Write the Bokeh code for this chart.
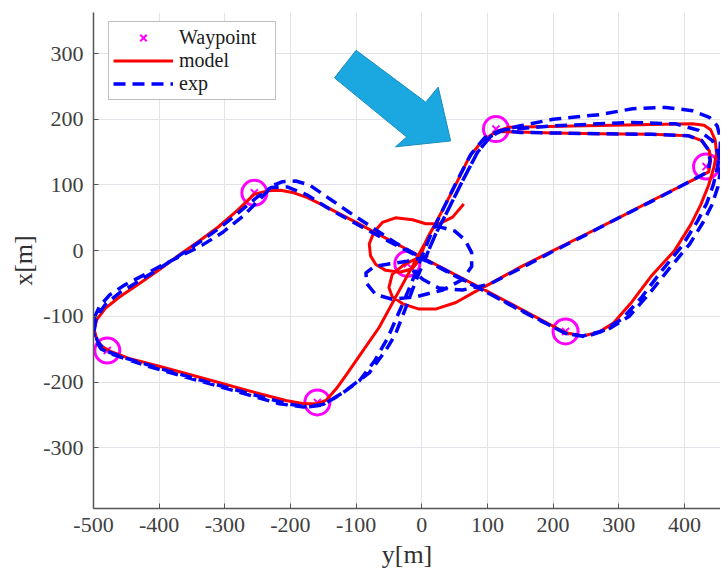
from bokeh.plotting import figure
from bokeh.models import Range1d, FixedTicker, Legend, LegendItem
from bokeh.embed import file_html
from bokeh.resources import INLINE

# ---------------- data (horizontal = y[m], vertical = x[m]) ----------------
waypoint_y = [113, 433, 219, -22, -255, -159, -479]
waypoint_x = [185, 128, -123, -20, 88, -231, -152]

model_y = [64, 47, 27, 6, -14, -40, -60, -73, -80, -78, -70, -55, -34, -15, -6, -1, 8, 26, 52, 72, 92, 113,
           133, 250, 350, 412, 430, 440, 447, 449, 445, 437, 425, 410, 385, 351, 320, 292, 270, 245, 219,
           100, 0, -100, -150, -175, -195, -215, -235, -255, -280, -310, -340, -370, -400, -430, -461, -482,
           -495, -499, -495, -487, -475, -446, -400, -319, -250, -207, -180, -160, -146, -130, -115, -90, -65,
           -35, -4, 26, 52, 72, 92, 113,
           133, 200, 270, 350, 407, 427, 438, 440, 437,
           400, 350, 300, 250, 200, 150, 103, 82, 52, 21, -4, -29, -45, -50, -45, -28, -8, 10]
model_x = [71, 51, 41, 41, 47, 50, 43, 28, 10, -8, -21, -30, -33, -28, -17, -6, 18, 51, 101, 142, 167, 181,
           188, 190, 192, 193, 191, 184, 168, 148, 127, 100, 70, 40, 0, -37, -78, -110, -124, -130, -125,
           -62, -10, 43, 69, 81, 88, 92, 91, 86, 62, 36, 14, -7, -29, -50, -71, -88,
           -105, -120, -135, -146, -153, -164, -176, -198, -217, -228, -233, -233, -228, -210, -189, -153, -117,
           -62, -5, 51, 101, 142, 167, 181,
           181, 179, 178, 177, 175, 167, 152, 137, 120,
           101, 76, 50, 25, 0, -25, -51, -62, -79, -89, -89, -81, -70, -56, -36, -22, -12, -8]

exp_y = [20, 50, 66, 76, 76, 62, 32, -8, -45, -70, -84, -85, -72, -48, -22, -4,
         6, 21, 37, 62, 85, 105, 125, 150, 200, 270, 321, 372, 412, 438, 450, 455, 454, 450, 444, 434, 420,
         397, 366, 334, 305, 276, 245, 219,
         150, 100, 50, 0, -40, -75, -110, -136, -171, -192, -212, -227, -248, -273, -303, -335, -365, -395,
         -425, -452, -475, -491, -500, -501, -497, -488, -471, -420, -354, -283, -217, -180, -150, -120, -80,
         -55, -40, -24, -9, 6, 21, 37, 62, 85, 105, 125,
         150, 200, 270, 321, 387, 422, 443, 452, 455, 451, 442, 429, 408, 378, 346, 316, 284, 250, 219,
         150, 100, 50, 0, -50, -100, -140, -175, -205, -230, -250, -280, -310, -340, -370, -400, -430, -460,
         -482, -496, -499, -493, -480, -450, -400, -320, -250, -205, -175, -152, -125, -95, -72, -52, -33,
         -16, -1, 14, 30, 52, 75, 96, 120,
         150, 270, 350, 405, 426, 437, 439, 436,
         400, 350, 300, 250, 200, 150, 103, 62, 26, 2, -14]
exp_x = [38, 30, 16, -3, -24, -44, -60, -70, -74, -67, -50, -34, -24, -20, -16, -12,
         -10, 25, 56, 106, 150, 174, 184, 190, 200, 207, 216, 218, 213, 203, 190, 170, 150, 125, 100, 72, 45,
         8, -30, -72, -104, -122, -130, -126,
         -91, -64, -37, -11, 12, 35, 58, 76, 100, 106, 105, 99, 77, 52, 28, 8, -7, -22,
         -38, -52, -67, -85, -105, -120, -137, -150, -158, -175, -194, -214, -233, -238, -234, -216, -186,
         -152, -127, -86, -46, -10, 25, 56, 106, 150, 174, 184,
         186, 190, 193, 195, 193, 183, 167, 147, 122, 97, 70, 44, 10, -26, -66, -100, -120, -131, -126,
         -90, -64, -38, -12, 14, 41, 63, 85, 97, 96, 82, 57, 33, 12, -8, -27, -46, -64,
         -82, -102, -122, -140, -153, -164, -179, -202, -221, -233, -238, -235, -220, -198, -168, -133, -90,
         -50, -12, 25, 58, 103, 147, 172, 183,
         180, 178, 177, 175, 168, 153, 137, 120,
         101, 75, 50, 24, -1, -27, -51, -60, -57, -44, -30]

# block-arrow annotation outline
arrow_y = [-100, -133, -23, -40, 44, 25, 6]
arrow_x = [305, 263, 173, 158, 167, 249, 226]

x_ticks = [-500, -400, -300, -200, -100, 0, 100, 200, 300, 400]
x_tick_labels = ["-500", "-400", "-300", "-200", "-100", "0", "100", "200", "300", "400"]
y_ticks = [-300, -200, -100, 0, 100, 200, 300]
y_tick_labels = ["-300", "-200", "-100", "0", "100", "200", "300"]

SERIF = "Liberation Serif"

p = figure(width=720, height=578, x_range=Range1d(-500, 455), y_range=Range1d(-392.5, 362.5),
           output_backend="svg", toolbar_location=None,
           min_border_left=93, min_border_right=0, min_border_top=12, min_border_bottom=70)
p.outline_line_color = None
p.background_fill_color = "white"
p.border_fill_color = "white"

for ax, ticks, labels in ((p.xaxis[0], x_ticks, x_tick_labels), (p.yaxis[0], y_ticks, y_tick_labels)):
    ax.ticker = FixedTicker(ticks=ticks)
    ax.major_label_overrides = {t: l for t, l in zip(ticks, labels)}
    ax.minor_tick_line_color = None
    ax.major_tick_in = 5
    ax.major_tick_out = 0
    ax.major_tick_line_color = "#555555"
    ax.axis_line_color = "#555555"
    ax.axis_line_width = 1.5
    ax.major_label_text_font = SERIF
    ax.major_label_text_font_size = "22px"
    ax.major_label_text_color = "#404040"
    ax.axis_label_text_font = SERIF
    ax.axis_label_text_font_size = "26px"
    ax.axis_label_text_font_style = "normal"
    ax.axis_label_text_color = "#303030"

p.xaxis.axis_label = "y[m]"
p.yaxis.axis_label = "x[m]"
p.xaxis.major_label_standoff = 9
p.xaxis.axis_label_standoff = 5
p.yaxis.major_label_standoff = 10
p.yaxis.axis_label_standoff = 2

p.xgrid.ticker = FixedTicker(ticks=x_ticks)
p.ygrid.ticker = FixedTicker(ticks=y_ticks)
p.grid.grid_line_color = "#e4e2e8"
p.grid.grid_line_width = 1

# waypoints
p.scatter(waypoint_y, waypoint_x, marker="circle", size=25, fill_color=None,
          line_color="#ff00ff", line_width=3)
r_wp = p.scatter(waypoint_y, waypoint_x, marker="x", size=10, line_color="#ff00ff", line_width=2)

r_model = p.line(model_y, model_x, line_color="#ff0000", line_width=3, line_join="round")
r_exp = p.line(exp_y, exp_x, line_color="#0000ff", line_width=3.5, line_dash="12 7", line_join="round")

p.patch(arrow_y, arrow_x, fill_color="#1ba7df", line_color="#1a8cc0", line_width=1)

legend = Legend(items=[LegendItem(label="Waypoint", renderers=[r_wp]),
                       LegendItem(label="model", renderers=[r_model]),
                       LegendItem(label="exp", renderers=[r_exp])],
                location=(15, 408))
legend.label_text_font = SERIF
legend.label_text_font_size = "20px"
legend.label_text_color = "#1a1a1a"
legend.border_line_color = "#7f7f7f"
legend.border_line_width = 1.5
legend.background_fill_color = "white"
legend.background_fill_alpha = 1
legend.padding = 4
legend.spacing = 0
legend.margin = 0
legend.glyph_width = 60
legend.glyph_height = 23
legend.label_height = 23
legend.label_width = 92
legend.label_standoff = 6
p.add_layout(legend)

open("out.html", "w").write(file_html(p, INLINE))
